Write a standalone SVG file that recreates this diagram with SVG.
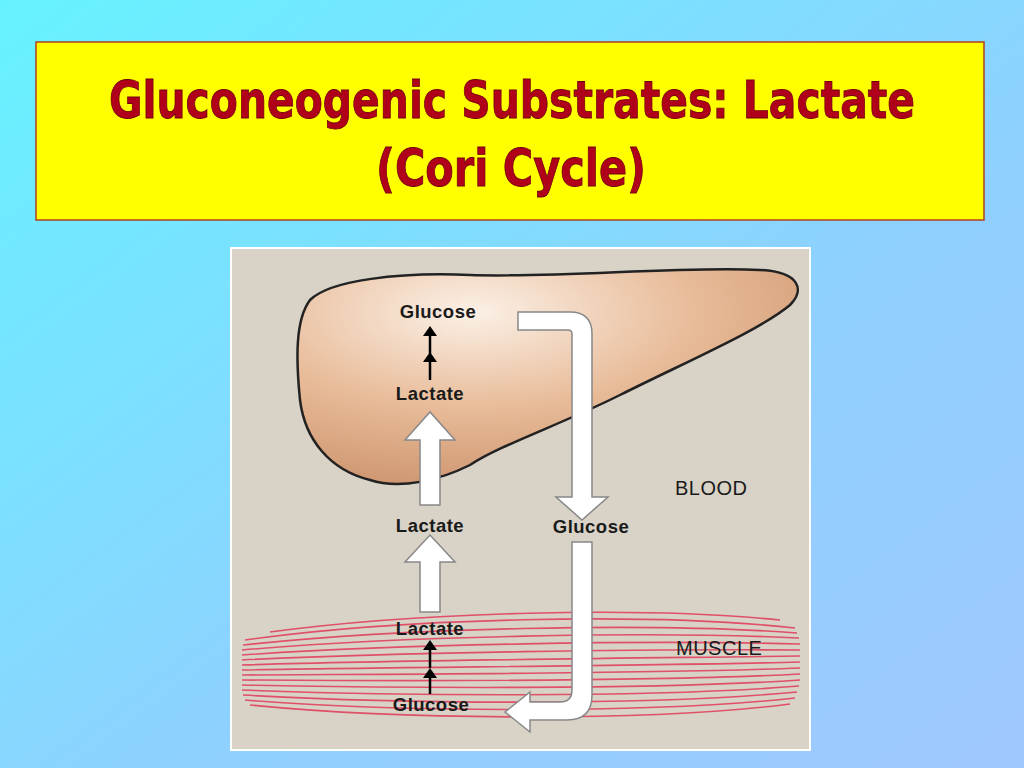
<svg xmlns="http://www.w3.org/2000/svg" width="1024" height="768" viewBox="0 0 1024 768">
<defs>
<linearGradient id="bg" x1="0" y1="0" x2="1" y2="1"><stop offset="0" stop-color="#66f2ff"/><stop offset="0.6" stop-color="#8fd0ff"/><stop offset="1" stop-color="#a0c8ff"/></linearGradient>
<radialGradient id="liv" cx="0.35" cy="0.2" r="0.9"><stop offset="0" stop-color="#fbf0e6"/><stop offset="0.5" stop-color="#e8bb98"/><stop offset="1" stop-color="#c98f68"/></radialGradient>
</defs>
<style>
.lbl{font-family:"Liberation Sans",Arial,sans-serif;font-weight:bold;font-size:18.5px;fill:#1a1a1a;text-anchor:middle;letter-spacing:0.5px}
.reg{font-family:"Liberation Sans",Arial,sans-serif;font-size:20px;fill:#1a1a1a;letter-spacing:0.5px}
.ttl{font-family:"DejaVu Sans Condensed","DejaVu Sans",sans-serif;font-weight:bold;font-size:52px;fill:#b0001a;stroke:#700010;stroke-width:0.8;text-anchor:middle}
.wa{fill:#fff;stroke:#888;stroke-width:1.5}
.fib{fill:none;stroke:#e05068;stroke-width:1.6}
.sa{fill:#000}
</style>
<rect width="1024" height="768" fill="url(#bg)"/>
<g id="title">
<rect x="36" y="42" width="948" height="178" fill="#ffff00" stroke="#b04020" stroke-width="1.5"/>
<text class="ttl" x="512" y="118" textLength="806" lengthAdjust="spacingAndGlyphs">Gluconeogenic Substrates: Lactate</text>
<text class="ttl" x="511" y="186" textLength="270" lengthAdjust="spacingAndGlyphs">(Cori Cycle)</text>
</g>
<g id="panel">
<rect x="231" y="248" width="579" height="502" fill="#d8d2c7" stroke="#fff" stroke-width="2"/>
</g>
<g id="liver">
<path d="M310,300 C330,280 400,272 470,275 C560,278 680,266 760,270 C800,272 805,290 790,305 C760,330 690,360 620,395 C560,425 500,445 470,465 C440,480 400,490 370,480 C330,470 305,440 300,400 C296,360 295,320 310,300 Z" fill="url(#liv)" stroke="#222" stroke-width="2.5"/>
</g>
<g id="muscle">
<path class="fib" d="M245,640 C400,618 650,612 795,628"/>
<path class="fib" d="M243,645 C400,628 650,622 797,633"/>
<path class="fib" d="M242,650 C400,636 650,631 799,638"/>
<path class="fib" d="M242,655 C400,644 650,640 800,644"/>
<path class="fib" d="M242,660 C400,652 650,649 800,650"/>
<path class="fib" d="M242,665 C400,660 650,658 800,656"/>
<path class="fib" d="M242,670 C400,667 650,666 800,662"/>
<path class="fib" d="M242,675 C400,674 650,674 800,668"/>
<path class="fib" d="M242,680 C400,681 650,682 800,674"/>
<path class="fib" d="M242,685 C400,688 650,690 800,680"/>
<path class="fib" d="M242,690 C400,696 650,698 799,686"/>
<path class="fib" d="M243,695 C400,704 650,706 797,692"/>
<path class="fib" d="M245,700 C400,712 650,714 795,698"/>
<path class="fib" d="M250,705 C400,720 650,722 790,704"/>
<path class="fib" d="M270,632 C420,612 640,606 780,620"/>
</g>
<g id="connectors">
<path class="wa" d="M420,505 L420,440 L405,440 L430,412 L455,440 L440,440 L440,505 Z"/>
<path class="wa" d="M420,612 L420,562 L405,562 L430,535 L455,562 L440,562 L440,612 Z"/>
<path class="wa" d="M518,312 L570,312 Q592,312 592,334 L592,497 L608,497 L582,520 L556,497 L572,497 L572,334 Q572,330 568,330 L518,330 Z"/>
<path class="wa" d="M572,542 L592,542 L592,695 Q592,720 567,720 L530,720 L530,732 L505,712 L530,692 L530,702 L560,702 Q572,702 572,690 Z"/>
<g stroke="#000" stroke-width="2.5">
<line x1="430" y1="380" x2="430" y2="360"/><line x1="430" y1="354" x2="430" y2="334"/>
<line x1="430" y1="668" x2="430" y2="650"/><line x1="430" y1="694" x2="430" y2="676"/>
</g>
<path class="sa" d="M430,352 L437,362 L423,362 Z"/><path class="sa" d="M430,326 L437,336 L423,336 Z"/>
<path class="sa" d="M430,640 L437,650 L423,650 Z"/><path class="sa" d="M430,668 L437,678 L423,678 Z"/>
</g>
<g id="labels">
<text class="lbl" x="438" y="318">Glucose</text>
<text class="lbl" x="430" y="400">Lactate</text>
<text class="lbl" x="430" y="532">Lactate</text>
<text class="lbl" x="591" y="533">Glucose</text>
<text class="lbl" x="430" y="635">Lactate</text>
<text class="lbl" x="431" y="711">Glucose</text>
<text class="reg" x="675" y="495">BLOOD</text>
<text class="reg" x="676" y="655">MUSCLE</text>
</g>
</svg>
